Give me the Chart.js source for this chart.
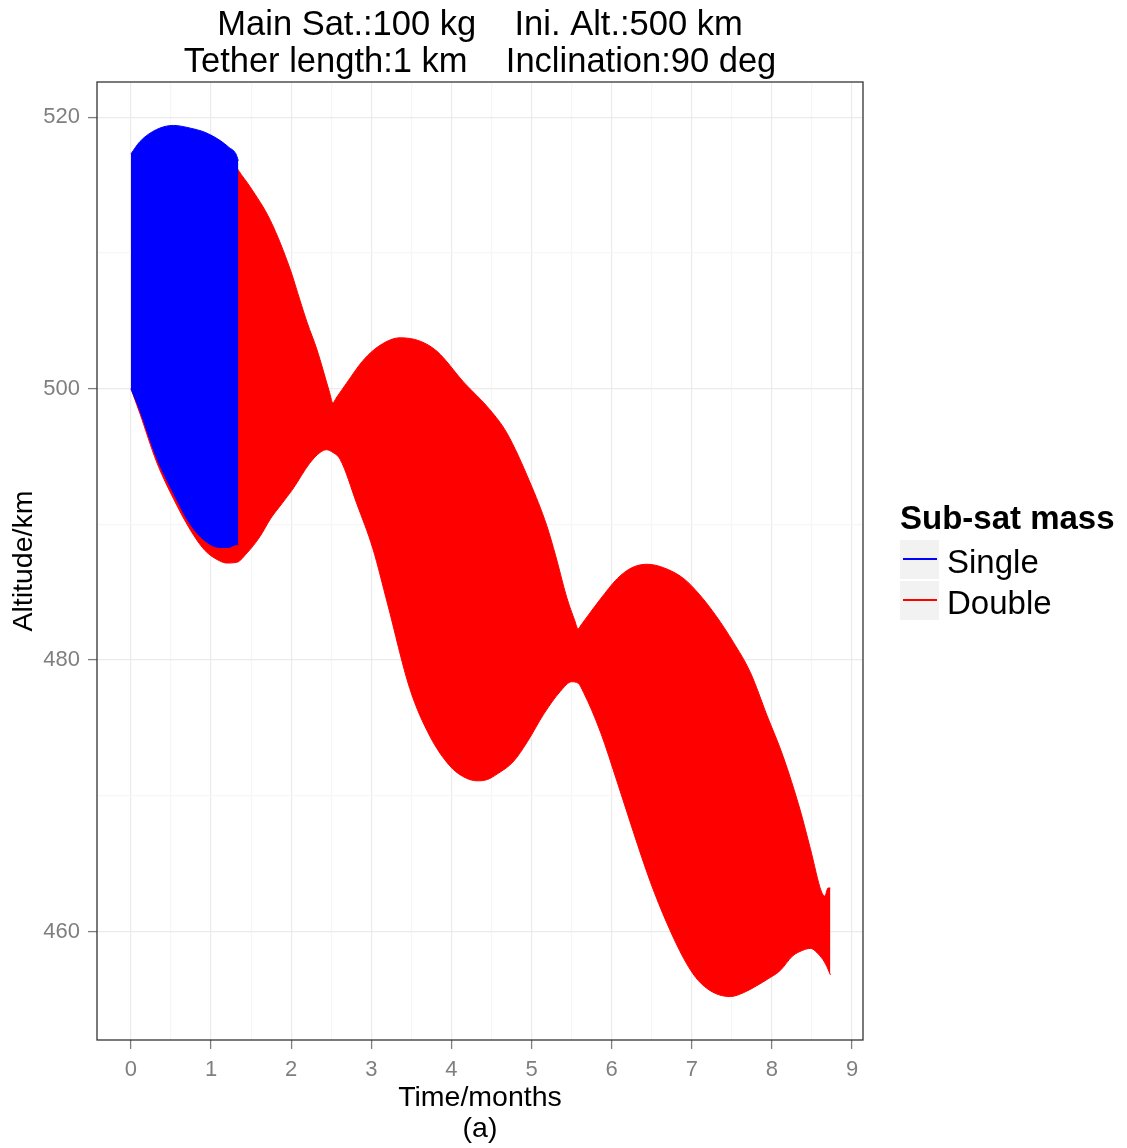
<!DOCTYPE html>
<html>
<head>
<meta charset="utf-8">
<script src="https://cdn.jsdelivr.net/npm/chart.js@4.4.1/dist/chart.umd.min.js"></script>
<style>
    body { margin: 0; background: #fff; }
    #wrap { position: relative; width: 1127px; height: 1148px; }
    .legend-title { position: absolute; left: 900px; top: 501px; font: bold 33px 'Liberation Sans', Arial, sans-serif; line-height: 1; color: #000; white-space: nowrap; }
    .legend-key { position: absolute; left: 900px; width: 39px; height: 39px; background: #f2f2f2; }
    .legend-line { position: absolute; left: 3px; width: 34px; height: 2px; top: 18px; }
    .legend-text { position: absolute; left: 947px; font: 33px 'Liberation Sans', Arial, sans-serif; line-height: 1; color: #000; white-space: nowrap; }
</style>
</head>
<body>
<div id="wrap">
    <canvas id="chart" width="1127" height="1148"></canvas>
    <div class="legend-title">Sub-sat mass</div>
    <div class="legend-key" style="top:540px"><div class="legend-line" style="background:#0000ff"></div></div>
    <div class="legend-text" style="top:545px">Single</div>
    <div class="legend-key" style="top:581px"><div class="legend-line" style="background:#ff0000"></div></div>
    <div class="legend-text" style="top:586px">Double</div>
</div>
<script>
// Single sub-satellite: envelope of the altitude oscillation
const singleTime  = [0, 0.11, 0.32, 0.53, 0.74, 0.92, 1.11, 1.22, 1.31, 1.34];
const singleUpper = [517.3, 518.2, 519.1, 519.4, 519.2, 518.9, 518.3, 517.8, 517.3, 516.8];
const singleLower = [500.0, 498.4, 494.9, 492.3, 490.0, 488.8, 488.3, 488.3, 488.5, 488.5];

// Double sub-satellite: upper and lower envelope
const doubleUpperTime = [0, 0.53, 0.92, 1.11, 1.32, 1.34, 1.49, 1.74, 1.99, 2.11, 2.2, 2.32, 2.48, 2.52, 2.56,
    2.69, 2.9, 3.11, 3.36, 3.61, 3.82, 4.15, 4.48, 4.69, 4.98, 5.19, 5.3, 5.44, 5.54, 5.58, 5.62, 5.72, 5.86,
    6.07, 6.25, 6.44, 6.65, 6.9, 7.1, 7.31, 7.52, 7.73, 7.94, 8.14, 8.35, 8.48, 8.62, 8.66, 8.7, 8.73];
const doubleUpper = [516.3, 518.4, 517.9, 517.3, 516.3, 516.1, 514.85, 512.4, 508.75, 506.5, 504.85, 502.9, 499.7, 498.95, 499.3,
    500.4, 502.1, 503.2, 503.75, 503.5, 502.75, 500.5, 498.45, 496.75, 493.1, 489.9, 487.7, 484.6, 482.9, 482.3, 482.6, 483.4, 484.5,
    486.0, 486.8, 487.06, 486.8, 486.0, 484.8, 483.2, 481.3, 479.1, 475.9, 472.9, 469.0, 466.1, 462.9, 462.6, 463.2, 463.2];

const doubleLowerTime = [0, 0.11, 0.32, 0.53, 0.74, 0.92, 1.11, 1.2, 1.32, 1.45, 1.61, 1.74, 1.88, 2.02, 2.23,
    2.36, 2.44, 2.52, 2.61, 2.82, 3.02, 3.2, 3.48, 3.73, 3.98, 4.15, 4.32, 4.45, 4.57, 4.77, 4.95, 5.15,
    5.36, 5.5, 5.58, 5.65, 5.86, 6.07, 6.27, 6.48, 6.69, 6.9, 7.05, 7.19, 7.33, 7.48, 7.65, 7.81, 7.95,
    8.1, 8.26, 8.38, 8.48, 8.6, 8.67, 8.73];
const doubleLower = [500.0, 498.2, 494.6, 491.9, 489.6, 488.1, 487.3, 487.15, 487.2, 487.9, 489.1, 490.4, 491.5, 492.6, 494.5,
    495.3, 495.5, 495.3, 494.8, 491.5, 488.2, 484.2, 477.9, 474.4, 472.2, 471.4, 471.1, 471.2, 471.6, 472.5, 474.0, 476.0,
    477.7, 478.4, 478.3, 477.6, 474.7, 471.0, 467.35, 463.7, 460.6, 458.0, 456.6, 455.8, 455.35, 455.2, 455.5, 456.0, 456.5,
    457.1, 458.2, 458.6, 458.75, 458.2, 457.6, 456.8];

const xTickValues = [0, 1, 2, 3, 4, 5, 6, 7, 8, 9];
const xMinorGrid = [0.5, 1.5, 2.5, 3.5, 4.5, 5.5, 6.5, 7.5, 8.5];
const yTickValues = [460, 480, 500, 520];
const yMinorGrid = [470, 490, 510];

const titleLines = ['Main Sat.:100 kg    Ini. Alt.:500 km', 'Tether length:1 km    Inclination:90 deg'];

const FONT = "'Liberation Sans', Arial, sans-serif";
const MAJOR_GRID = '#ebebeb';
const MINOR_GRID = '#f6f6f6';
const TICK_GREY = '#7f7f7f';

function toPoints(xs, ys) {
    return xs.map((x, i) => ({ x: x, y: ys[i] }));
}

function band(xs, ys, color, fill, order) {
    return {
        data: toPoints(xs, ys),
        borderColor: color,
        backgroundColor: color,
        borderWidth: 1,
        pointRadius: 0,
        cubicInterpolationMode: 'monotone',
        fill: fill,
        order: order
    };
}

const panelBorder = {
    id: 'panelBorder',
    afterDatasetsDraw(chart) {
        const a = chart.chartArea;
        const ctx = chart.ctx;
        ctx.save();
        ctx.strokeStyle = '#333333';
        ctx.lineWidth = 1.3;
        ctx.strokeRect(a.left, a.top, a.right - a.left, a.bottom - a.top);
        ctx.restore();
    }
};

new Chart(document.getElementById('chart'), {
    type: 'line',
    data: {
        datasets: [
            band(doubleUpperTime, doubleUpper, '#ff0000', '+1', 2),
            band(doubleLowerTime, doubleLower, '#ff0000', false, 2),
            band(singleTime, singleUpper, '#0000ff', '+1', 1),
            band(singleTime, singleLower, '#0000ff', false, 1)
        ]
    },
    options: {
        responsive: false,
        animation: false,
        layout: { padding: { left: 0, right: 264, top: 0, bottom: 0 } },
        plugins: {
            legend: { display: false },
            tooltip: { enabled: false },
            title: {
                display: true,
                text: titleLines,
                fullSize: false,
                color: '#000',
                font: { family: FONT, size: 34.5, weight: 'normal', lineHeight: 37 / 34.5 },
                padding: { top: 7, bottom: 1 }
            }
        },
        scales: {
            x: {
                type: 'linear',
                min: -0.424,
                max: 9.137,
                afterFit: (scale) => { scale.height = 108; },
                afterBuildTicks: (scale) => {
                    scale.ticks = xTickValues.concat(xMinorGrid).sort((a, b) => a - b).map(v => ({ value: v }));
                },
                border: { display: false },
                grid: {
                    color: (c) => xTickValues.includes(c.tick && c.tick.value) ? MAJOR_GRID : MINOR_GRID,
                    lineWidth: 1.2,
                    tickLength: 9,
                    tickWidth: 1.3,
                    tickColor: (c) => xTickValues.includes(c.tick && c.tick.value) ? TICK_GREY : 'rgba(0,0,0,0)'
                },
                ticks: {
                    autoSkip: false,
                    maxRotation: 0,
                    padding: 8,
                    color: TICK_GREY,
                    font: { family: FONT, size: 22 },
                    callback: (v) => xTickValues.includes(v) ? String(v) : ''
                },
                title: {
                    display: true,
                    text: ['Time/months', '(a)'],
                    color: '#000',
                    font: { family: FONT, size: 28.5, lineHeight: 31 / 28.5 },
                    padding: { top: 0, bottom: 3 }
                }
            },
            y: {
                type: 'linear',
                min: 452.0,
                max: 522.6,
                afterFit: (scale) => { scale.width = 97; },
                afterBuildTicks: (scale) => {
                    scale.ticks = yTickValues.concat(yMinorGrid).sort((a, b) => a - b).map(v => ({ value: v }));
                },
                border: { display: false },
                grid: {
                    color: (c) => yTickValues.includes(c.tick && c.tick.value) ? MAJOR_GRID : MINOR_GRID,
                    lineWidth: 1.2,
                    tickLength: 9,
                    tickWidth: 1.3,
                    tickColor: (c) => yTickValues.includes(c.tick && c.tick.value) ? TICK_GREY : 'rgba(0,0,0,0)'
                },
                ticks: {
                    autoSkip: false,
                    padding: 8,
                    color: TICK_GREY,
                    font: { family: FONT, size: 22 },
                    callback: (v) => yTickValues.includes(v) ? String(v) : ''
                },
                title: {
                    display: true,
                    text: 'Altitude/km',
                    color: '#000',
                    font: { family: FONT, size: 28.5, lineHeight: 1.2 },
                    padding: { top: 7, bottom: 0 }
                }
            }
        }
    },
    plugins: [panelBorder]
});
</script>
</body>
</html>
